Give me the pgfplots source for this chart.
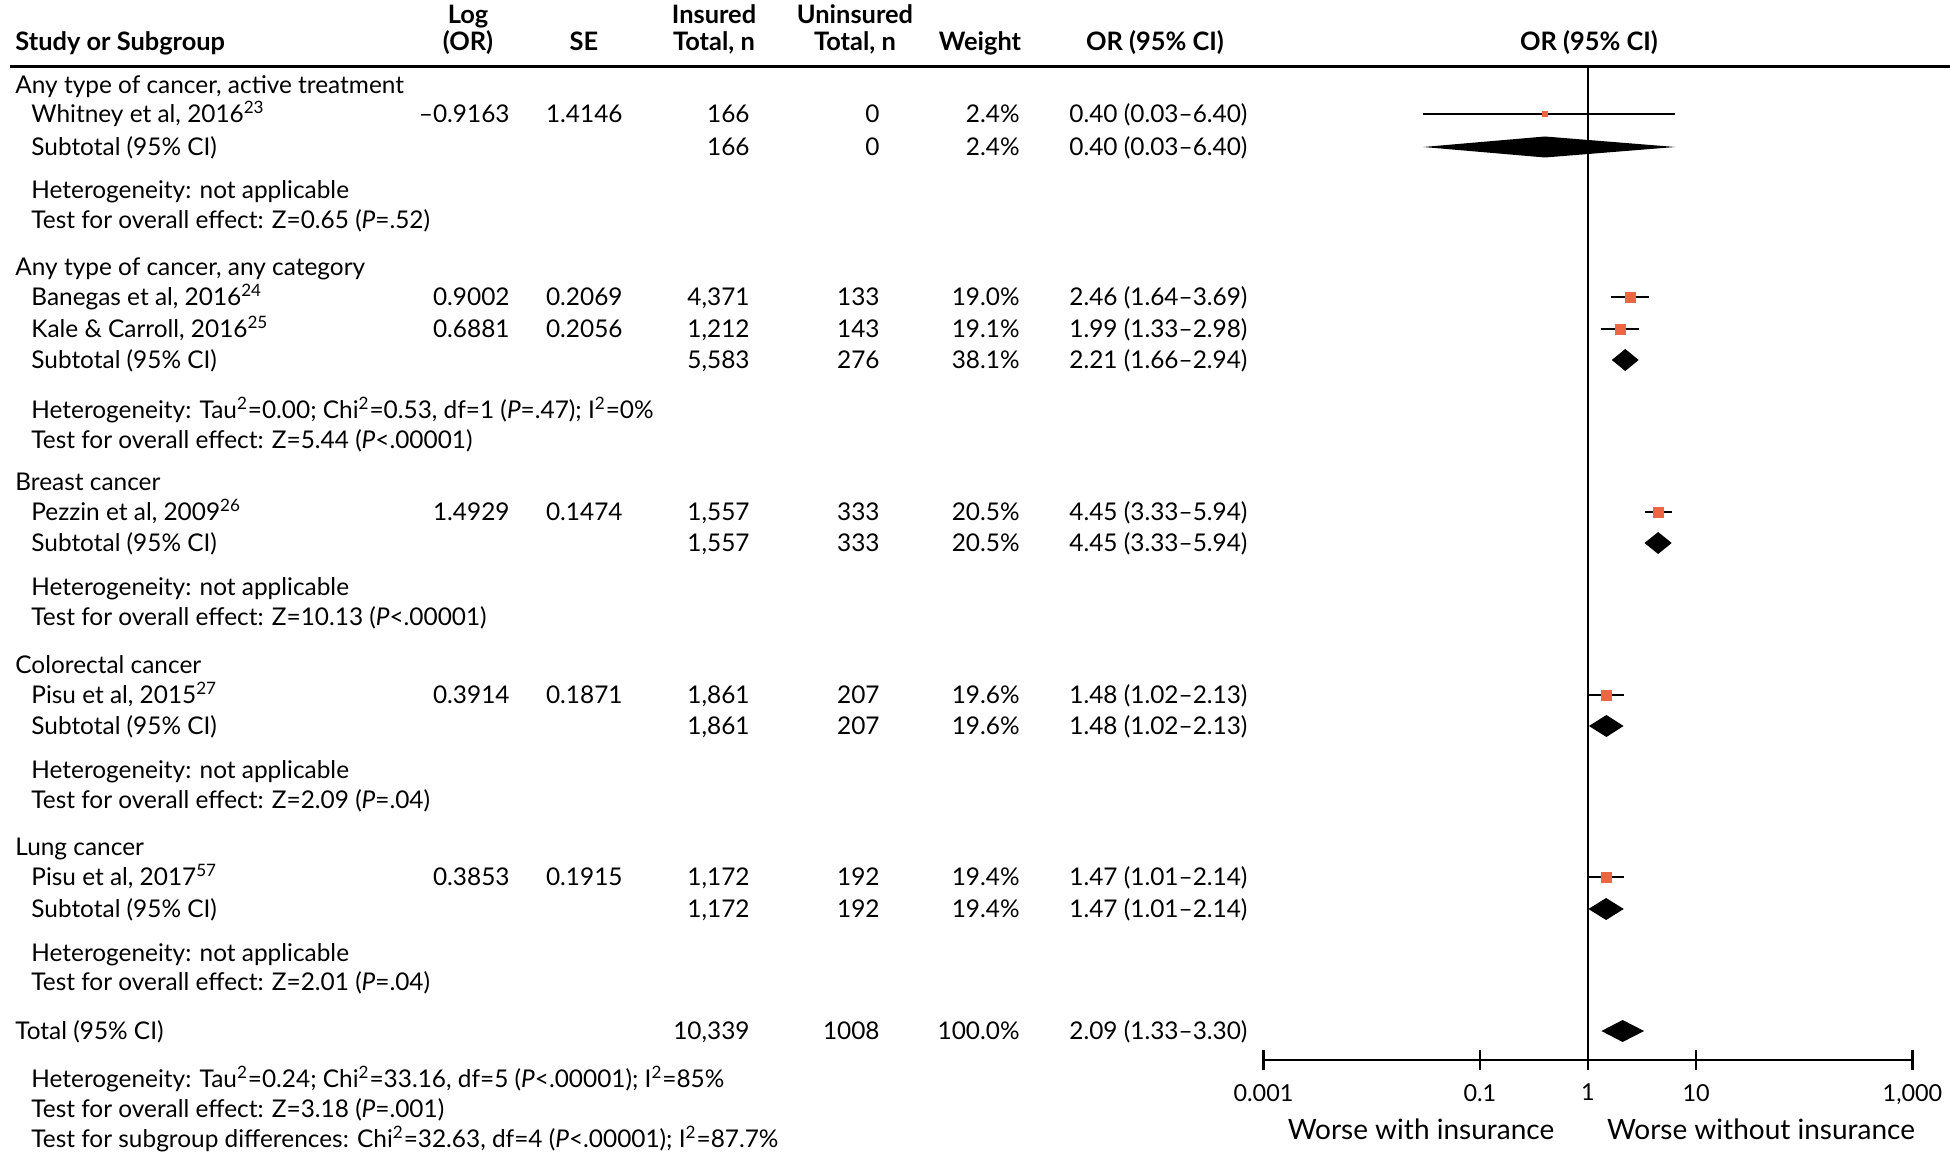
\documentclass[border=0pt]{standalone}
\usepackage{pgfplots}
\pgfplotsset{compat=1.18}
\usepackage{fontspec}
\setmainfont{Lato}
\definecolor{sq}{RGB}{236,102,68}

% 1 unit = 1 px of the 1950x1159 reference
\newcommand{\row}[7]{%
  \node[anchor=mid west] at (31,#1) {#2};
  \node[anchor=mid east] at (510,#1) {#3};
  \node[anchor=mid east] at (623,#1) {#4};
  \node[anchor=mid east] at (750,#1) {#5};
  \node[anchor=mid east] at (880,#1) {#6};
  \node[anchor=mid east] at (1020,#1) {#7};
}
\newcommand{\ci}[2]{\node[anchor=mid west] at (1069,#1) {#2};}

\begin{document}
\begin{tikzpicture}[font=\fontsize{12.2}{14}\selectfont]
\begin{scope}[x=0.5pt,y=-0.5pt,every node/.style={inner sep=0pt}]
\useasboundingbox (0,0) rectangle (1950,1159);
\draw[line width=1.5pt] (10,67) -- (1950,67);

\begin{scope}[yshift=-1.8pt]
% header
\begin{scope}[font=\fontsize{12.7}{14}\selectfont\bfseries]
\node[anchor=mid west] at (15,42) {Study or Subgroup};
\node[anchor=mid] at (468,15) {Log};
\node[anchor=mid] at (468,42) {(OR)};
\node[anchor=mid] at (584,42) {SE};
\node[anchor=mid] at (714,15) {Insured};
\node[anchor=mid] at (714,42) {Total, n};
\node[anchor=mid] at (855,15) {Uninsured};
\node[anchor=mid] at (855,42) {Total, n};
\node[anchor=mid] at (980,42) {Weight};
\node[anchor=mid] at (1155,42) {OR (95\% CI)};
\node[anchor=mid] at (1589,42) {OR (95\% CI)};
\end{scope}

% table body
\node[anchor=mid west] at (15,85) {Any type of cancer, active treatment};
\row{114}{Whitney et al, 2016\textsuperscript{23}}{–0.9163}{1.4146}{166}{0}{2.4\%}\ci{114}{0.40 (0.03–6.40)}
\row{147}{Subtotal (95\% CI)}{}{}{166}{0}{2.4\%}\ci{147}{0.40 (0.03–6.40)}
\node[anchor=mid west] at (31,190) {Heterogeneity: not applicable};
\node[anchor=mid west] at (31,220) {Test for overall effect: Z=0.65 (\textit{P}=.52)};

\node[anchor=mid west] at (15,267) {Any type of cancer, any category};
\row{297}{Banegas et al, 2016\textsuperscript{24}}{0.9002}{0.2069}{4,371}{133}{19.0\%}\ci{297}{2.46 (1.64–3.69)}
\row{329}{Kale \& Carroll, 2016\textsuperscript{25}}{0.6881}{0.2056}{1,212}{143}{19.1\%}\ci{329}{1.99 (1.33–2.98)}
\row{360}{Subtotal (95\% CI)}{}{}{5,583}{276}{38.1\%}\ci{360}{2.21 (1.66–2.94)}
\node[anchor=mid west] at (31,410) {Heterogeneity: Tau\textsuperscript{2}=0.00; Chi\textsuperscript{2}=0.53, df=1 (\textit{P}=.47); I\textsuperscript{2}=0\%};
\node[anchor=mid west] at (31,440) {Test for overall effect: Z=5.44 (\textit{P}<.00001)};

\node[anchor=mid west] at (15,482) {Breast cancer};
\row{512}{Pezzin et al, 2009\textsuperscript{26}}{1.4929}{0.1474}{1,557}{333}{20.5\%}\ci{512}{4.45 (3.33–5.94)}
\row{543}{Subtotal (95\% CI)}{}{}{1,557}{333}{20.5\%}\ci{543}{4.45 (3.33–5.94)}
\node[anchor=mid west] at (31,587) {Heterogeneity: not applicable};
\node[anchor=mid west] at (31,617) {Test for overall effect: Z=10.13 (\textit{P}<.00001)};

\node[anchor=mid west] at (15,665) {Colorectal cancer};
\row{695}{Pisu et al, 2015\textsuperscript{27}}{0.3914}{0.1871}{1,861}{207}{19.6\%}\ci{695}{1.48 (1.02–2.13)}
\row{726}{Subtotal (95\% CI)}{}{}{1,861}{207}{19.6\%}\ci{726}{1.48 (1.02–2.13)}
\node[anchor=mid west] at (31,770) {Heterogeneity: not applicable};
\node[anchor=mid west] at (31,800) {Test for overall effect: Z=2.09 (\textit{P}=.04)};

\node[anchor=mid west] at (15,847) {Lung cancer};
\row{877}{Pisu et al, 2017\textsuperscript{57}}{0.3853}{0.1915}{1,172}{192}{19.4\%}\ci{877}{1.47 (1.01–2.14)}
\row{909}{Subtotal (95\% CI)}{}{}{1,172}{192}{19.4\%}\ci{909}{1.47 (1.01–2.14)}
\node[anchor=mid west] at (31,953) {Heterogeneity: not applicable};
\node[anchor=mid west] at (31,982) {Test for overall effect: Z=2.01 (\textit{P}=.04)};

\node[anchor=mid west] at (15,1031) {Total (95\% CI)};
\row{1031}{}{}{}{10,339}{1008}{100.0\%}\ci{1031}{2.09 (1.33–3.30)}
\node[anchor=mid west] at (31,1079) {Heterogeneity: Tau\textsuperscript{2}=0.24; Chi\textsuperscript{2}=33.16, df=5 (\textit{P}<.00001); I\textsuperscript{2}=85\%};
\node[anchor=mid west] at (31,1109) {Test for overall effect: Z=3.18 (\textit{P}=.001)};
\node[anchor=mid west] at (31,1139) {Test for subgroup differences: Chi\textsuperscript{2}=32.63, df=4 (\textit{P}<.00001); I\textsuperscript{2}=87.7\%};

\begin{scope}[font=\fontsize{14}{16}\selectfont]
\node[anchor=mid] at (1421,1131) {Worse with insurance};
\node[anchor=mid] at (1761,1131) {Worse without insurance};
\end{scope}
\end{scope}
\end{scope}

% forest plot
\begin{axis}[
  at={(631.75pt,-530pt)}, anchor=south west, scale only axis,
  width=324.5pt, height=496.5pt,
  xmode=log, xmin=0.001, xmax=1000, ymin=-1060, ymax=-67,
  axis x line=bottom, axis y line=none, clip=false,
  axis line style={line width=1.1pt, -},
  xtick={0.001,0.1,1,10,1000}, xticklabels={0.001,0.1,1,10,{1,000}},
  minor xtick={}, xtick align=center, major tick length=10pt,
  every tick/.style={line width=1.1pt, black},
  x tick label style={font=\fontsize{11.7}{13}\selectfont, yshift=-3.5pt},
]
% null line
\addplot[black, line width=1pt] coordinates {(1,-1060) (1,-67)};
% confidence intervals of the studies
\addplot[black, line width=1pt] coordinates {(0.03,-114) (6.40,-114)};
\addplot[black, line width=1pt] coordinates {(1.64,-297) (3.69,-297)};
\addplot[black, line width=1pt] coordinates {(1.33,-329) (2.98,-329)};
\addplot[black, line width=1pt] coordinates {(3.33,-512) (5.94,-512)};
\addplot[black, line width=1pt] coordinates {(1.02,-695) (2.13,-695)};
\addplot[black, line width=1pt] coordinates {(1.01,-877) (2.14,-877)};
% study estimates
\addplot[only marks, mark=square*, mark size=1.1pt, color=sq] coordinates {(0.40,-114)};
\addplot[only marks, mark=square*, mark size=2.5pt, color=sq] coordinates {
  (2.46,-297) (1.99,-329) (4.45,-512) (1.48,-695) (1.47,-877)};
% pooled estimates
\addplot[fill=black, draw=none] coordinates {(0.03,-147) (0.40,-136.5) (6.40,-147) (0.40,-157.5) (0.03,-147)};
\addplot[fill=black, draw=none] coordinates {(1.66,-360) (2.21,-349) (2.94,-360) (2.21,-371) (1.66,-360)};
\addplot[fill=black, draw=none] coordinates {(3.33,-543) (4.45,-532) (5.94,-543) (4.45,-554) (3.33,-543)};
\addplot[fill=black, draw=none] coordinates {(1.02,-726) (1.48,-715) (2.13,-726) (1.48,-737) (1.02,-726)};
\addplot[fill=black, draw=none] coordinates {(1.01,-909) (1.47,-898) (2.14,-909) (1.47,-920) (1.01,-909)};
\addplot[fill=black, draw=none] coordinates {(1.33,-1031) (2.09,-1020) (3.30,-1031) (2.09,-1042) (1.33,-1031)};
\end{axis}
\end{tikzpicture}
\end{document}
